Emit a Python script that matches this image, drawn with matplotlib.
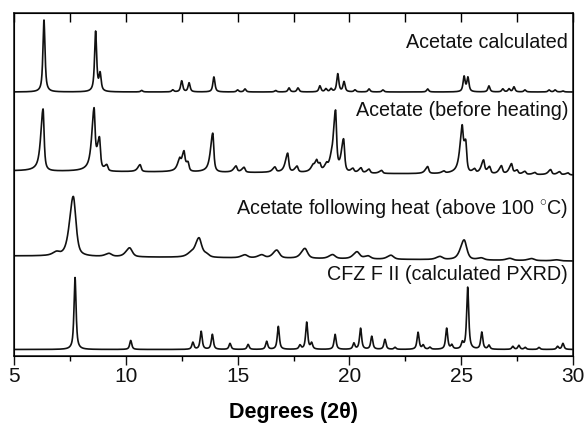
import numpy as np
import matplotlib
matplotlib.use('Agg')
import matplotlib.pyplot as plt

plt.rcParams['font.family'] = ['Liberation Sans', 'DejaVu Sans']
plt.rcParams['mathtext.fontset'] = 'custom'
plt.rcParams['mathtext.rm'] = 'Liberation Sans'

# ---------------- data (peak positions in degrees 2theta, peak heights in a.u.) ----------------
labels = ["Acetate calculated",
          "Acetate (before heating)",
          "Acetate following heat (above 100 $^{\\circ}$C)",
          "CFZ F II (calculated PXRD)"]

acetate_calc_pos = [6.34, 8.65, 8.85, 10.71, 12.10, 12.50, 12.83, 13.94, 15.00, 15.33, 16.70,
                    17.30, 17.70, 18.68, 18.95, 19.18, 19.48, 19.76, 20.25, 20.88, 21.50, 23.50,
                    25.13, 25.30, 26.24, 26.86, 27.14, 27.36, 27.85, 28.93, 29.20, 29.55]
acetate_calc_int = [72, 60, 17, 1.5, 2, 11, 9, 15, 2, 3, 1.5,
                    4, 4, 6, 3, 3, 18, 10, 2, 3, 2, 3,
                    15, 14, 6, 3, 3, 5, 2, 2, 2, 1]

acetate_exp_pos = [6.30, 8.58, 8.82, 9.15, 10.64, 12.41, 12.60, 12.78, 13.89, 14.93, 15.29,
                   16.67, 17.24, 17.66, 18.37, 18.53, 18.68, 18.98, 19.18, 19.38, 19.74, 20.16,
                   20.52, 20.88, 21.44, 23.50, 24.23, 25.04, 25.20, 25.60, 26.00, 26.27, 26.80,
                   27.25, 27.50, 27.85, 28.30, 29.00, 29.40, 29.78]
acetate_exp_int = [62, 58, 32, 6, 7, 9, 18, 9, 39, 6, 5,
                   5, 19, 6, 4, 9, 7, 5, 5, 60, 33, 4,
                   5, 4, 3, 7, 2, 38, 31, 4, 13, 7, 8,
                   10, 4, 3, 2, 5, 3, 2]

acetate_heat_pos = [6.90, 7.65, 9.25, 10.17, 12.90, 13.27, 13.60, 15.33, 16.08, 16.75, 18.01,
                    19.25, 20.34, 20.83, 21.86, 24.05, 25.13, 25.90, 27.18, 28.15, 29.27]
acetate_heat_int = [3, 60, 3, 9, 3, 19, 3, 3, 3, 8, 10,
                    4, 7, 3, 4, 3, 20, 2, 2, 2, 1]

cfz_pos = [7.73, 10.22, 13.00, 13.37, 13.87, 14.66, 15.47, 16.30, 16.82, 17.79, 18.09, 18.31,
           19.36, 20.20, 20.50, 21.00, 21.59, 22.04, 23.07, 23.30, 23.60, 24.35, 24.58, 25.05,
           25.29, 25.92, 26.24, 27.31, 27.58, 27.86, 28.48, 29.31, 29.55]
cfz_int = [72, 9, 7, 18, 15, 6, 5, 8, 23, 4, 27, 6,
           15, 6, 21, 13, 10, 2, 17, 4, 2, 21, 4, 6,
           62, 17, 4, 3, 4, 2, 2, 3, 6]

# ---------------- profile settings (style) ----------------
x_ticks = [5, 10, 15, 20, 25, 30]
two_theta = np.linspace(5, 30, 6001)


def profile(x, pos, inten, fwhm, eta, asym=1.0):
    y = np.zeros_like(x)
    for c, h in zip(pos, inten):
        w = np.where(x < c, fwhm * asym, fwhm)
        d = (x - c) / (w / 2.0)
        lor = 1.0 / (1.0 + d ** 2)
        gau = np.exp(-np.log(2) * d ** 2)
        y += h * (eta * lor + (1 - eta) * gau)
    return y


offsets = [264, 185, 100, 6.5]
slopes = [0.0, -4.0, -5.0, 0.0]
settings = [dict(fwhm=0.11, eta=0.8, asym=1.0),
            dict(fwhm=0.11, eta=0.8, asym=2.2),
            dict(fwhm=0.28, eta=0.6, asym=1.4),
            dict(fwhm=0.11, eta=0.8, asym=1.0)]
series = [(acetate_calc_pos, acetate_calc_int),
          (acetate_exp_pos, acetate_exp_int),
          (acetate_heat_pos, acetate_heat_int),
          (cfz_pos, cfz_int)]
label_y = [314, 247, 149, 82]

fig = plt.figure(figsize=(5.88, 4.27), dpi=100)
ax = fig.add_axes([14 / 588, 70 / 427, 559 / 588, 343 / 427])

for (pos, inten), off, sl, st, lab, ly in zip(series, offsets, slopes, settings, labels, label_y):
    base = off + sl * (two_theta - 5) / 25.0
    y = base + profile(two_theta, pos, inten, **st)
    ax.plot(two_theta, y, color='#111111', lw=1.2)
    ax.text(29.78, ly, lab, ha='right', va='center', fontsize=14.2, color='#111111')

ax.set_xlim(5, 30)
ax.set_ylim(0, 343)
ax.set_yticks([])
ax.set_xticks(x_ticks)
ax.set_xticks(np.arange(7.5, 30, 5), minor=True)
ax.tick_params(axis='x', which='major', direction='out', length=6.5, width=1.0,
               labelsize=15, pad=1.0, colors='#111111')
ax.tick_params(axis='x', which='minor', direction='out', length=3.3, width=1.0)
for s in ax.spines.values():
    s.set_linewidth(1.1)
    s.set_color('#111111')

top = ax.twiny()
top.set_xlim(5, 30)
top.set_xticks(np.arange(5, 30.01, 2.5))
top.tick_params(axis='x', direction='in', length=6.5, width=1.0, labeltop=False)

ax.set_xlabel("Degrees (2\u03b8)", fontsize=15.5, fontweight='bold', labelpad=11)

fig.savefig('out.png', dpi=100)
